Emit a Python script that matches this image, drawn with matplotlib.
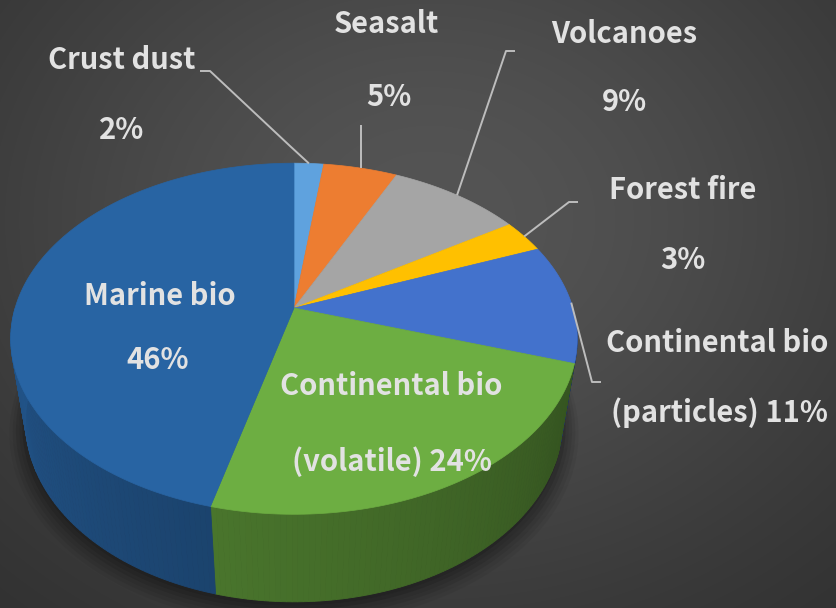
import numpy as np
import matplotlib
matplotlib.use("Agg")
import matplotlib.pyplot as plt
from matplotlib.patches import Polygon
from matplotlib import colors as mcolors

# ---- data -------------------------------------------------------------
names_line1 = ["Crust dust", "Seasalt", "Volcanoes", "Forest fire",
               "Continental bio", "Continental bio", "Marine bio"]
names_line2 = ["", "", "", "", "(particles) ", "(volatile) ", ""]
shares = [2, 5, 9, 3, 11, 24, 46]
top_colors = ["#5FA2DE", "#ED7D31", "#A5A5A5", "#FFC000",
              "#4372CC", "#6DAE42", "#2864A3"]

# ---- figure -----------------------------------------------------------
W, H = 836, 608
fig = plt.figure(figsize=(W / 100, H / 100), dpi=100)
ax = fig.add_axes([0, 0, 1, 1])
ax.set_xlim(0, W)
ax.set_ylim(H, 0)
ax.axis("off")

# dark radial backdrop
yy, xx = np.mgrid[0:H, 0:W]
g = np.exp(-(((xx - 430) / 520.0) ** 2 + ((yy - 220) / 420.0) ** 2))
lvl = 0.16 + 0.17 * g
bg = np.dstack([lvl, lvl, lvl])
ax.imshow(bg, extent=(0, W, H, 0), zorder=0, aspect="auto")

# ---- perspective projection of a tilted disk -------------------------
CX, CY = 294.0, 308.0
FOC = 1262.0
RAD = 0.221
PHI = np.radians(37.6)
THICK = 0.088


def project(theta, z):
    X = RAD * np.sin(theta)
    Y = RAD * np.cos(theta)
    depth = Y * np.cos(PHI) - z * np.sin(PHI) + 1.0
    u = X * FOC / depth
    v = (Y * np.sin(PHI) + z * np.cos(PHI)) * FOC / depth
    return CX + u, CY - v


def shade(color, f):
    r, gg, b = mcolors.to_rgb(color)
    return (r * f, gg * f, b * f)


fractions = np.array(shares, dtype=float) / sum(shares)
edges = np.concatenate([[0], np.cumsum(fractions)]) * 2 * np.pi

# soft shadow under the pie
for k, a in zip(range(6), [0.10, 0.09, 0.08, 0.07, 0.06, 0.05]):
    t = np.linspace(0, 2 * np.pi, 240)
    sx, sy = project(t, -THICK)
    cxm, cym = np.mean(sx), np.mean(sy)
    grow = 1.0 + 0.012 * k
    ax.add_patch(Polygon(np.column_stack([cxm + (sx - cxm) * grow,
                                          cym + (sy - cym) * grow + 4 + 1.5 * k]),
                         closed=True, fc="black", ec="none", alpha=a, zorder=1))

# side walls (front half only), darker towards the right
lo, hi = np.pi / 2, 3 * np.pi / 2
for i in range(len(shares)):
    a0, a1 = max(edges[i], lo), min(edges[i + 1], hi)
    if a1 <= a0:
        continue
    n = max(2, int(np.degrees(a1 - a0)))
    ts = np.linspace(a0, a1, n + 1)
    for t0, t1 in zip(ts[:-1], ts[1:]):
        tm = 0.5 * (t0 + t1)
        f = 0.44 + 0.40 * (tm - lo) / (hi - lo)
        x0, y0 = project(t0, 0)
        x1, y1 = project(t1, 0)
        x2, y2 = project(t1, -THICK)
        x3, y3 = project(t0, -THICK)
        c = shade(top_colors[i], f)
        ax.add_patch(Polygon([[x0, y0], [x1, y1], [x2, y2], [x3, y3]],
                             closed=True, fc=c, ec=c, lw=0.6, zorder=2))

# top face wedges
for i in range(len(shares)):
    ts = np.linspace(edges[i], edges[i + 1], max(4, int(shares[i] * 8)))
    px, py = project(ts, 0)
    pts = np.column_stack([np.concatenate([[CX], px]), np.concatenate([[CY], py])])
    ax.add_patch(Polygon(pts, closed=True, fc=top_colors[i], ec=top_colors[i],
                         lw=0.5, zorder=3))

# ---- labels -----------------------------------------------------------
FAM = ["Noto Sans CJK KR", "DejaVu Sans"]
FS = 21
TXT = "#E2E2E2"

label_pos = [  # (x, y line 1), (x, y line 2)
    ((122, 60), (122, 130)),
    ((386, 24), (389, 97)),
    ((624, 34), (624, 102)),
    ((683, 190), (683, 260)),
    ((717, 343), (719, 413)),
    ((391, 386), (392, 462)),
    ((160, 296), (158, 360)),
]
for i in range(len(shares)):
    (x1, y1), (x2, y2) = label_pos[i]
    ax.text(x1, y1, names_line1[i], ha="center", va="center", color=TXT,
            fontsize=FS, fontweight="bold", family=FAM, zorder=5)
    ax.text(x2, y2, f"{names_line2[i]}{shares[i]}%", ha="center", va="center",
            color=TXT, fontsize=FS, fontweight="bold", family=FAM, zorder=5)

# leader lines from outside labels to slice mid-angles
mids = 0.5 * (edges[:-1] + edges[1:])
leaders = {
    0: [(200, 71), (210, 71), (290, 146)],
    1: None,
    2: [(515, 51), (506, 51)],
    3: [(578, 202), (569, 202)],
    4: [(601, 382), (592, 382)],
}
for i, path in leaders.items():
    axp, ayp = project(mids[i], 0)
    if path is None:
        path = [(axp, 125)]
    pts = np.array(list(path) + [(axp, ayp)])
    ax.plot(pts[:, 0], pts[:, 1], color="#BDBDBD", lw=1.4, zorder=4,
            solid_capstyle="butt")

fig.savefig("out.png", dpi=100)
